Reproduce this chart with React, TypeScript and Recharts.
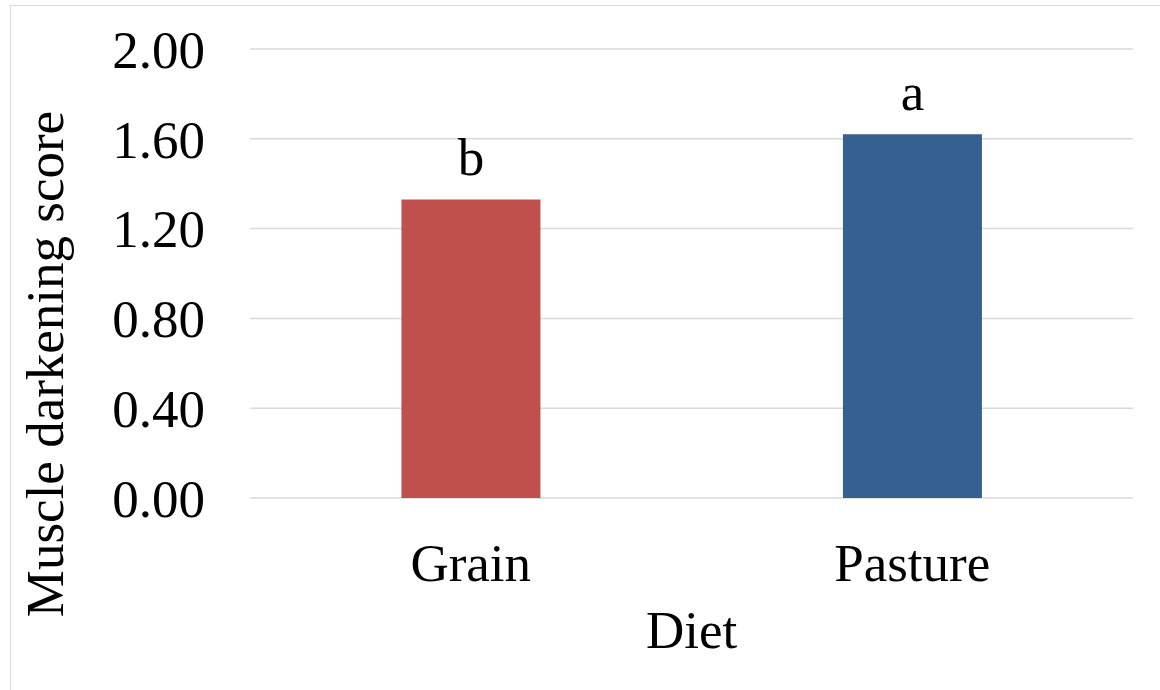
import React from 'react';
import { BarChart, Bar, XAxis, YAxis, CartesianGrid, Cell, LabelList } from 'recharts';

const diets = ['Grain', 'Pasture'];
const scores = [1.33, 1.62];
const letters = ['b', 'a'];
const barColors = ['#C0504D', '#376092'];
const yTicks = [0, 0.4, 0.8, 1.2, 1.6, 2.0];

const data = diets.map((d, i) => ({ diet: d, score: scores[i], letter: letters[i] }));

const FONT = '"Liberation Serif", "Times New Roman", serif';
const FS = 53;

function YTitle() {
  const cx = 63;
  const cy = 364;
  return (
    <text
      x={cx}
      y={cy}
      transform={`rotate(-90, ${cx}, ${cy})`}
      textAnchor="middle"
      fontFamily={FONT}
      fontSize={FS}
      fill="#000"
    >
      Muscle darkening score
    </text>
  );
}

export default function App() {
  return (
    <div style={{ position: 'fixed', left: 0, top: 0, width: 1160, height: 690, background: '#fff', overflow: 'hidden' }}>
      <div style={{
        position: 'absolute', left: 10, top: 5, width: 1200, height: 720,
        border: '1.5px solid #d9d9d9', boxSizing: 'border-box',
      }} />
      <div style={{ position: 'absolute', left: 0, top: 0 }}>
        <BarChart
          width={1160}
          height={690}
          data={data}
          margin={{ top: 49, right: 27, left: 0, bottom: 42 }}
          barCategoryGap="34.3%"
        >
          <CartesianGrid vertical={false} stroke="#d9d9d9" strokeWidth={1.5} />
          <XAxis
            dataKey="diet"
            axisLine={false}
            tickLine={false}
            tickSize={0}
            tickMargin={45}
            height={150}
            tick={{ fontFamily: FONT, fontSize: FS, fill: '#000' }}
            label={{ value: 'Diet', position: 'insideBottom', offset: 0, fontFamily: FONT, fontSize: FS, fill: '#000' }}
          />
          <YAxis
            width={250}
            domain={[0, 2]}
            ticks={yTicks}
            interval={0}
            axisLine={false}
            tickLine={false}
            tickSize={0}
            tickMargin={45}
            tickFormatter={(v: number) => v.toFixed(2)}
            tick={{ fontFamily: FONT, fontSize: FS, fill: '#000' }}
          />
          <Bar dataKey="score" isAnimationActive={false}>
            {data.map((d, i) => (
              <Cell key={d.diet} fill={barColors[i]} />
            ))}
            <LabelList
              dataKey="letter"
              position="top"
              offset={24}
              style={{ fontFamily: FONT, fontSize: FS, fill: '#000' }}
            />
          </Bar>
          <YTitle />
        </BarChart>
      </div>
    </div>
  );
}
